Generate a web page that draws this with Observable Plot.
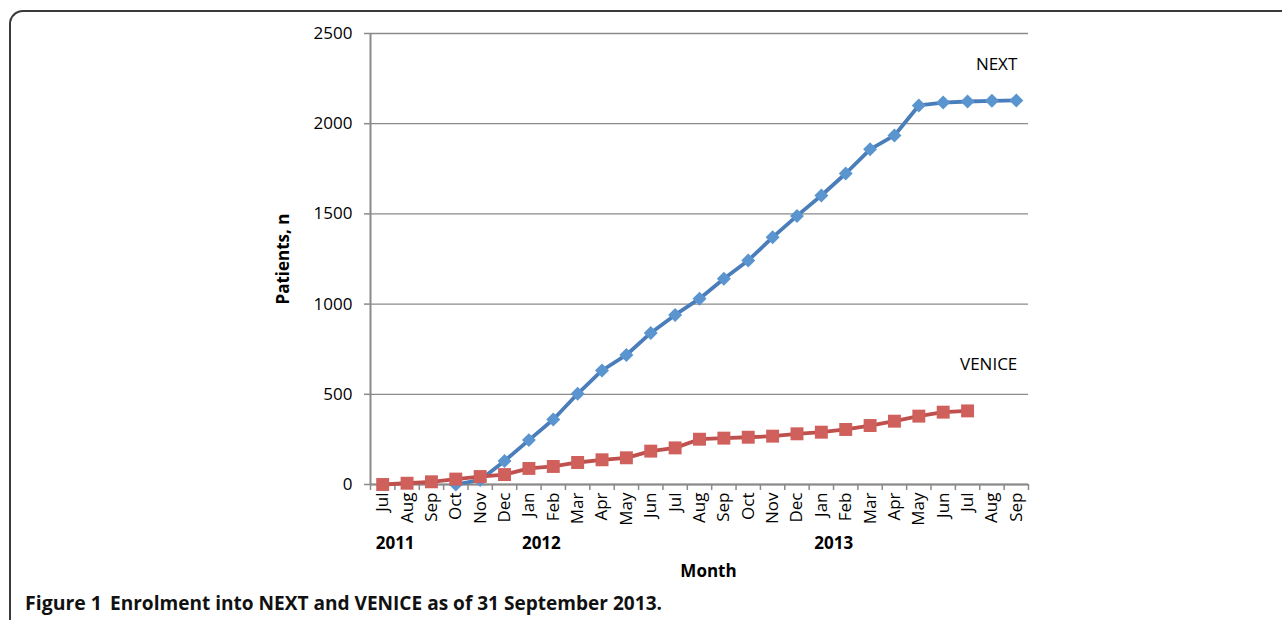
<!DOCTYPE html>
<html><head><meta charset="utf-8">
<script src="https://cdn.jsdelivr.net/npm/d3@7"></script>
<script src="https://cdn.jsdelivr.net/npm/@observablehq/plot@0.6"></script>
<style>
body{margin:0;background:#fff;width:1282px;height:620px;overflow:hidden;position:relative;font-family:"Open Sans",sans-serif}
#frame{position:absolute;left:9px;top:10px;width:1400px;height:700px;border-top:2px solid #3a3a3a;border-left:2px solid #3a3a3a;border-top-left-radius:14px;box-sizing:border-box}
#chart{position:absolute;left:0;top:0}
#cap{position:absolute;left:0;top:580px}
</style></head><body>
<div id="frame"></div>
<div id="chart"></div>
<svg id="cap" width="1282" height="40" xmlns="http://www.w3.org/2000/svg">
  <text id="capA" x="25" y="30" font-family="Open Sans, sans-serif" font-weight="bold" font-size="20" textLength="77" lengthAdjust="spacingAndGlyphs" fill="#111"></text>
  <text id="capB" x="110" y="30" font-family="Open Sans, sans-serif" font-weight="bold" font-size="20" textLength="552" lengthAdjust="spacingAndGlyphs" fill="#111"></text>
</svg>
<script>
const months = ["Jul","Aug","Sep","Oct","Nov","Dec","Jan","Feb","Mar","Apr","May","Jun","Jul","Aug","Sep","Oct","Nov","Dec","Jan","Feb","Mar","Apr","May","Jun","Jul","Aug","Sep"];
const years = ["2011","2012","2013"];
const yearStartIndex = [0, 6, 18];
const nextValues = [null,null,null,0,25,130,246,360,503,632,718,840,940,1030,1141,1242,1370,1489,1602,1724,1858,1935,2101,2117,2123,2127,2129];
const veniceValues = [0,7,15,30,44,55,89,100,122,137,148,185,203,251,257,262,268,281,290,305,327,351,379,401,408];
const seriesNames = ["NEXT","VENICE"];
const seriesLabelY = [2330, 665];
const yTicks = [0,500,1000,1500,2000,2500];
const captionBold = "Figure 1";
const captionRest = "Enrolment into NEXT and VENICE as of 31 September 2013.";
const yLabel = "Patients, n";
const xLabel = "Month";

document.getElementById("capA").textContent = captionBold;
document.getElementById("capB").textContent = captionRest;

const nextData = nextValues.map((v,i)=>({i,v})).filter(d=>d.v!=null);
const veniceData = veniceValues.map((v,i)=>({i,v}));
const boundaries = d3.range(months.length+1).map(i=>i-0.5);
const yearData = years.map((y,k)=>({year:y, i:yearStartIndex[k]}));
const lastIdx = months.length-1;
const labelData = seriesNames.map((n,k)=>({name:n, i:lastIdx, v:seriesLabelY[k]}));
const gray = "#8a8a8a";

const chart = Plot.plot({
  width:1282, height:620,
  marginLeft:370, marginRight:254, marginTop:33, marginBottom:136,
  style:{fontFamily:'"Open Sans", sans-serif', fontSize:"17px", color:"#000", background:"transparent"},
  x:{type:"linear", domain:[-0.5, months.length-0.5]},
  y:{domain:[0,2500]},
  marks:[
    Plot.gridY(yTicks,{stroke:gray, strokeOpacity:1, strokeWidth:1.3}),
    Plot.axisY(yTicks,{tickSize:6, tickPadding:12, stroke:gray, strokeWidth:1.5, label:null, tickFormat:d=>String(d), fontSize:17}),
    Plot.ruleX([-0.5],{stroke:gray, strokeWidth:2}),
    Plot.ruleY([0],{stroke:gray, strokeWidth:2}),
    Plot.axisX(boundaries,{tickSize:6, tickFormat:()=>"", stroke:gray, strokeWidth:1.5, label:null}),
    Plot.axisX(d3.range(months.length),{tickSize:0, tickRotate:-90, tickPadding:8, tickFormat:i=>months[i], label:null, fontSize:17}),
    Plot.text(yearData,{x:"i", y:0, text:"year", dy:59, dx:-7, textAnchor:"start", fontWeight:"bold", fontSize:17}),
    Plot.text([xLabel],{frameAnchor:"bottom", lineAnchor:"middle", dy:87, dx:9, fontWeight:"bold", fontSize:17}),
    Plot.text([yLabel],{frameAnchor:"left", textAnchor:"middle", lineAnchor:"middle", dx:-87, rotate:-90, fontWeight:"bold", fontSize:17}),
    Plot.text(labelData,{x:"i", y:"v", text:"name", textAnchor:"end", dx:1, fontSize:17}),
    Plot.line(nextData,{x:"i", y:"v", stroke:"#4a7ebb", strokeWidth:3.8}),
    Plot.dot(nextData,{x:"i", y:"v", symbol:"diamond2", r:6.3, fill:"#5b95cf", stroke:"none"}),
    Plot.line(veniceData,{x:"i", y:"v", stroke:"#c0504d", strokeWidth:3.8}),
    Plot.dot(veniceData,{x:"i", y:"v", symbol:"square", r:7.3, fill:"#cf605c", stroke:"none"})
  ]
});
document.getElementById("chart").appendChild(chart);
</script>
</body></html>
